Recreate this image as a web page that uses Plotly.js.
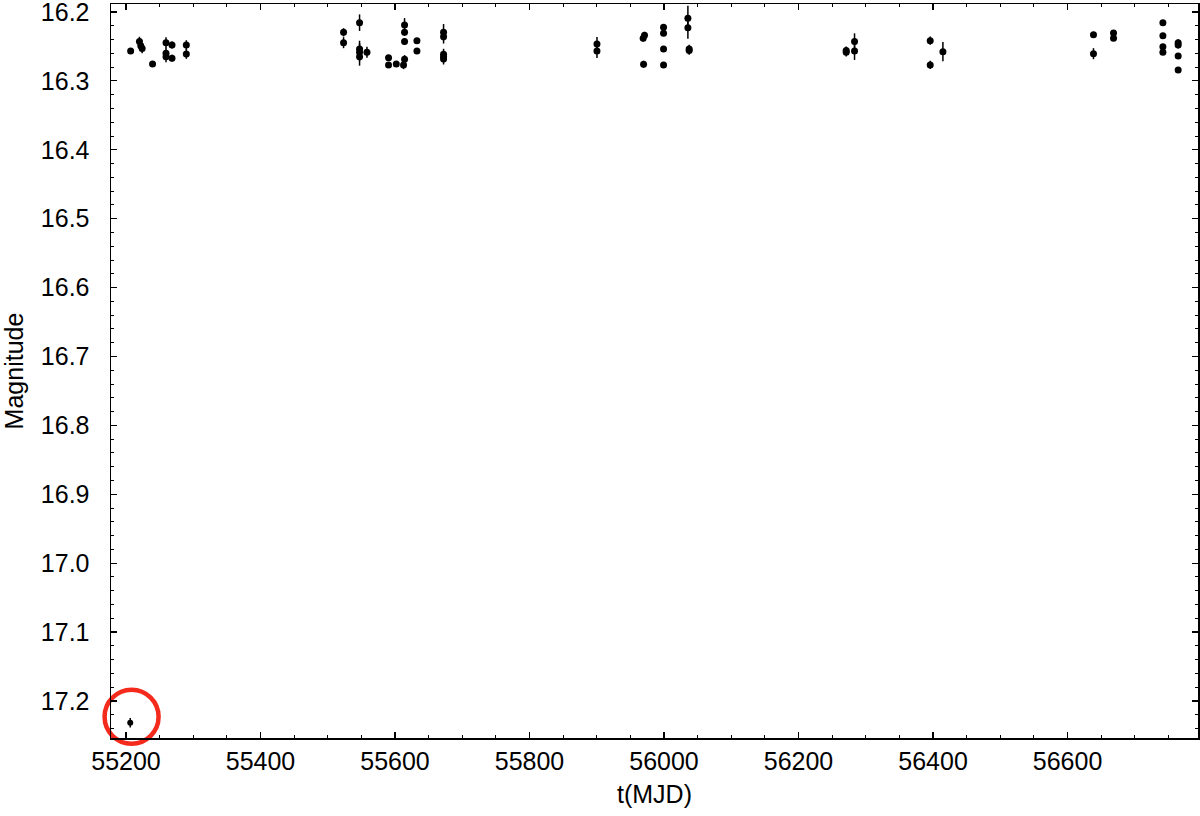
<!DOCTYPE html>
<html>
<head>
<meta charset="utf-8">
<script src="https://cdn.plot.ly/plotly-3.0.1.min.js"></script>
<style>html,body{margin:0;padding:0;background:#fff;}#chart{width:1200px;height:816px;}</style>
</head>
<body>
<div id="chart"></div>
<script>
// Observation times (MJD)
const mjd = [
  55206.9, 55220.0, 55222.0, 55224.0, 55239.5, 55259.5, 55259.5, 55259.5, 55268.4, 55268.4,
  55289.7, 55289.7,
  55523.5, 55523.5, 55547.3, 55547.3, 55547.3, 55547.3, 55558.3, 55590.4, 55590.4, 55601.9,
  55614.2, 55614.2, 55614.2, 55614.2, 55612.7, 55632.6, 55632.6, 55672.2, 55672.2, 55672.2,
  55672.2, 55672.2,
  55900.3, 55900.3, 55969.0, 55971.0, 55969.6, 55999.3, 55999.3, 55999.3, 55999.3, 56035.5,
  56035.5, 56037.4, 56037.4,
  56270.9, 56270.9, 56283.3, 56283.3, 56395.8, 56395.8, 56414.7,
  56638.6, 56638.6, 56668.4, 56668.4, 56741.8, 56741.8, 56741.8, 56741.8, 56764.5, 56764.5,
  56764.5, 56764.5
];
// Magnitudes
const mag = [
  16.2566, 16.2430, 16.2490, 16.2530, 16.2755, 16.2445, 16.2600, 16.2650, 16.2480, 16.2670,
  16.2480, 16.2610,
  16.2295, 16.2445, 16.2155, 16.2537, 16.2585, 16.2649, 16.2585, 16.2663, 16.2769, 16.2755,
  16.2189, 16.2295, 16.2430, 16.2686, 16.2769, 16.2417, 16.2566, 16.2295, 16.2358, 16.2614,
  16.2649, 16.2682,
  16.2464, 16.2566, 16.2380, 16.2338, 16.2759, 16.2222, 16.2309, 16.2537, 16.2769, 16.2091,
  16.2228, 16.2537, 16.2560,
  16.2560, 16.2585, 16.2430, 16.2566, 16.2417, 16.2769, 16.2576,
  16.2329, 16.2605, 16.2305, 16.2382, 16.2155, 16.2344, 16.2503, 16.2585, 16.2445, 16.2479,
  16.2639, 16.2842
];
// Magnitude errors
const magErr = [
  0.004, 0.007, 0.007, 0.007, 0.004, 0.008, 0.008, 0.008, 0.005, 0.005,
  0.007, 0.007,
  0.006, 0.008, 0.012, 0.012, 0.013, 0.013, 0.008, 0.004, 0.004, 0.004,
  0.010, 0.005, 0.005, 0.006, 0.006, 0.004, 0.004, 0.012, 0.010, 0.008,
  0.008, 0.008,
  0.010, 0.010, 0.005, 0.005, 0.005, 0.004, 0.004, 0.004, 0.004, 0.018,
  0.016, 0.006, 0.006,
  0.006, 0.006, 0.012, 0.013, 0.006, 0.006, 0.014,
  0.004, 0.008, 0.004, 0.004, 0.004, 0.004, 0.004, 0.004, 0.005, 0.005,
  0.004, 0.004
];
// Outlier point (circled in red)
const outlierMjd = [55206.3];
const outlierMag = [17.2315];
const outlierErr = [0.007];
// Circle highlight centre
const circleMjd = [55208.3];
const circleMag = [17.2228];

const font = {family: 'Liberation Sans, Arial, sans-serif', size: 25, color: '#000'};

const traces = [
  {
    x: mjd, y: mag, type: 'scatter', mode: 'markers',
    marker: {color: '#000', size: 7},
    error_y: {type: 'data', array: magErr, visible: true, color: '#000', thickness: 1.5, width: 0},
    hoverinfo: 'x+y'
  },
  {
    x: outlierMjd, y: outlierMag, type: 'scatter', mode: 'markers',
    marker: {color: '#000', size: 6},
    error_y: {type: 'data', array: outlierErr, visible: true, color: '#000', thickness: 1.5, width: 0}
  },
  {
    x: circleMjd, y: circleMag, type: 'scatter', mode: 'markers', cliponaxis: false,
    marker: {symbol: 'circle-open', size: 54, color: '#f42a1c', line: {width: 4.5, color: '#f42a1c'}},
    hoverinfo: 'skip'
  }
];

const axisCommon = {
  showgrid: false, zeroline: false, showline: true, linecolor: '#000', linewidth: 1.5,
  mirror: 'ticks', ticks: 'inside', ticklen: 6, tickwidth: 1.2, tickcolor: '#000',
  tickfont: font, ticklabeloverflow: 'allow'
};

const layout = {
  width: 1200, height: 816,
  margin: {l: 111, r: 2, t: 4, b: 78},
  paper_bgcolor: '#fff', plot_bgcolor: '#fff',
  showlegend: false,
  font: font,
  xaxis: Object.assign({}, axisCommon, {
    range: [55177.7, 56794],
    dtick: 200, tick0: 55200, tickformat: 'd',
    minor: {dtick: 50, ticks: 'inside', ticklen: 3, tickwidth: 1, tickcolor: '#000'},
    title: {text: 't(MJD)', font: font, standoff: 12}
  }),
  yaxis: Object.assign({}, axisCommon, {
    range: [17.2537, 16.1884],
    dtick: 0.1, tick0: 16.2, tickformat: '.1f',
    ticklabelstandoff: 15,
    minor: {dtick: 0.02, ticks: 'inside', ticklen: 3, tickwidth: 1, tickcolor: '#000'},
    title: {text: 'Magnitude', font: font, standoff: 14}
  })
};

Plotly.newPlot('chart', traces, layout, {displayModeBar: false, staticPlot: true});
</script>
</body>
</html>
